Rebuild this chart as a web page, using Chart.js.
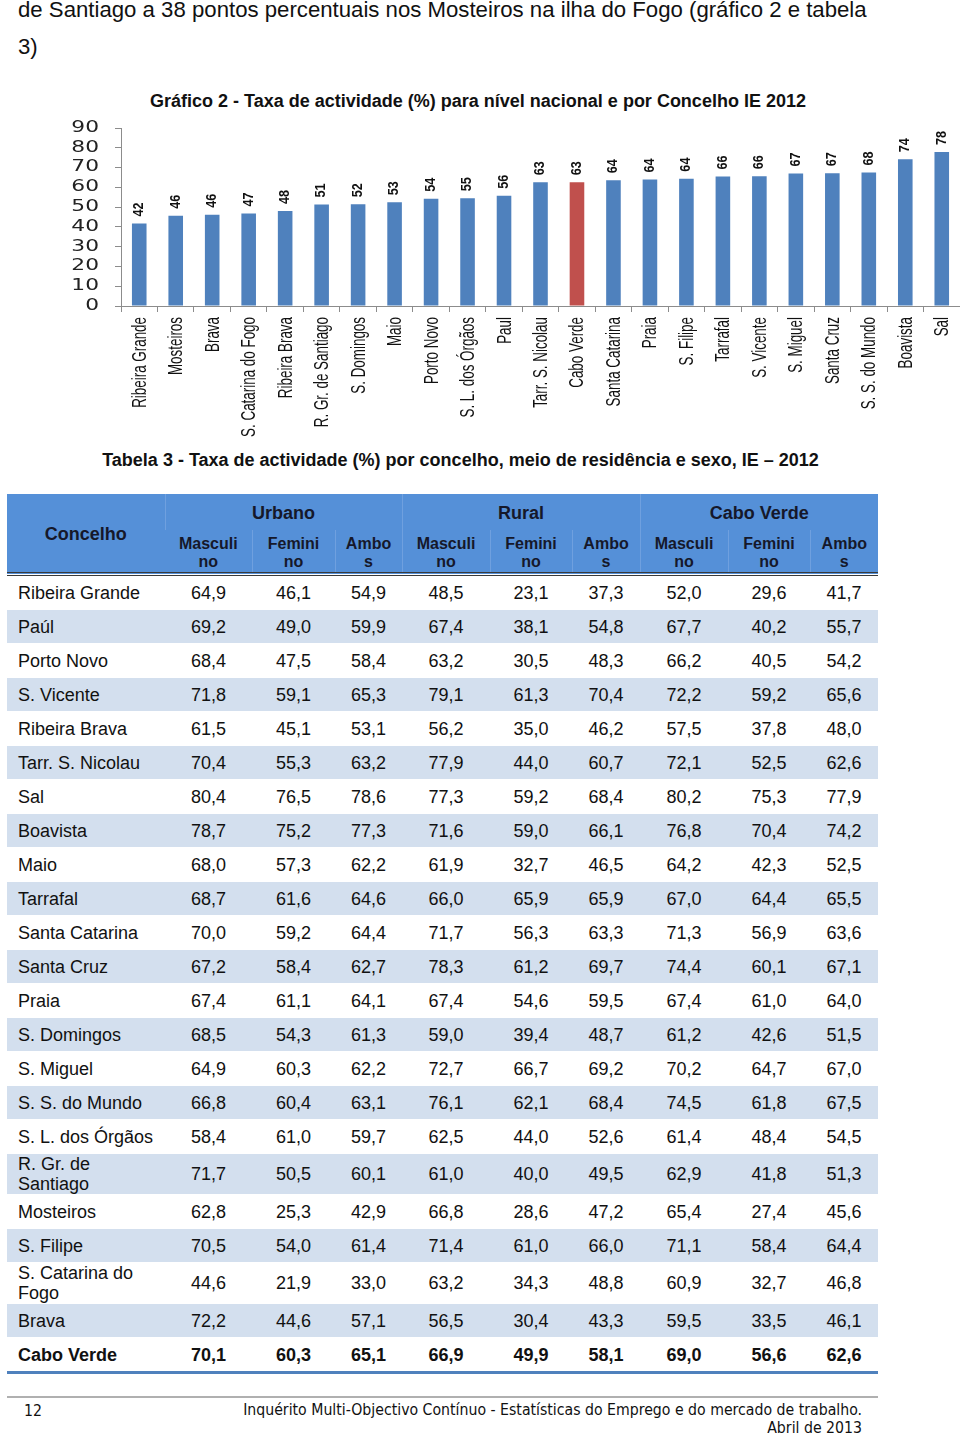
<!DOCTYPE html>
<html>
<head>
<meta charset="utf-8">
<script src="https://cdn.jsdelivr.net/npm/chart.js@4.4.1/dist/chart.umd.min.js"></script>
<style>
  body { margin: 0; width: 960px; height: 1435px; position: relative; overflow: hidden;
         font-family: "Liberation Sans", Arial, sans-serif; color: #111; background: #fff; }
  .abs { position: absolute; }
  #intro { left: 18px; top: -9px; font-size: 22.2px; line-height: 37px; white-space: nowrap; }
  .title { left: 0; text-align: center; font-weight: bold; font-size: 18px; white-space: nowrap; }
  #chartBox { left: 60px; top: 118px; width: 900px; height: 330px; }
  table { border-collapse: collapse; table-layout: fixed; width: 871px; left: 7px; top: 494px; font-size: 18px; }
  thead th { background: #5590d8; color: #15182a; font-weight: bold; text-align: center; padding: 0;
             border-left: 1px solid #6fa0df; }
  thead th:first-child { border-left: none; }
  thead tr.g th { height: 34px; font-size: 18px; padding-top: 2px; }
  thead tr.s th { height: 39px; padding-top: 3px; font-size: 16px; line-height: 18px; border-bottom: 4px double #3a3a3a; }
  tbody td { height: 33px; padding: 0; text-align: center; line-height: 20px; border-bottom: 1px solid #fff; }
  tbody td.n { text-align: left; padding-left: 11px; }
  tbody tr.alt td { background: #d3dfee; }
  tbody tr.tot td { font-weight: bold; border-bottom: 3px solid #4f81bd; }
  .foot { font-family: "Liberation Sans Narrow", "DejaVu Sans Condensed", sans-serif; font-size: 15.7px; }
</style>
</head>
<body>
<div id="intro" class="abs">de Santiago a 38 pontos percentuais nos Mosteiros na ilha do Fogo (gráfico 2 e tabela<br>3)</div>
<div class="abs title" style="top:91px;width:956px">Gráfico 2 - Taxa de actividade (%) para nível nacional e por Concelho IE 2012</div>
<div id="chartBox" class="abs"><canvas id="myChart"></canvas></div>
<div class="abs title" style="top:450px;width:921px">Tabela 3 - Taxa de actividade (%) por concelho, meio de residência e sexo, IE – 2012</div>
<table class="abs" id="tab">
  <colgroup>
    <col style="width:158px"><col style="width:87px"><col style="width:83px"><col style="width:67px">
    <col style="width:88px"><col style="width:82px"><col style="width:68px">
    <col style="width:88px"><col style="width:82px"><col style="width:68px">
  </colgroup>
  <thead>
    <tr class="g"><th rowspan="2" style="border-bottom:4px double #3a3a3a">Concelho</th>
      <th colspan="3">Urbano</th><th colspan="3">Rural</th><th colspan="3">Cabo Verde</th></tr>
    <tr class="s">
      <th>Masculi<br>no</th><th>Femini<br>no</th><th>Ambo<br>s</th>
      <th>Masculi<br>no</th><th>Femini<br>no</th><th>Ambo<br>s</th>
      <th>Masculi<br>no</th><th>Femini<br>no</th><th>Ambo<br>s</th>
    </tr>
  </thead>
  <tbody id="tbody"></tbody>
</table>
<div class="abs" style="left:7px;top:1396px;width:871px;height:2px;background:#b0b0b0"></div>
<div class="abs foot" style="left:24px;top:1401px">12</div>
<div class="abs foot" style="right:98px;top:1401px;text-align:right;line-height:18px">Inquérito Multi-Objectivo Contínuo - Estatísticas do Emprego e do mercado de trabalho.<br>Abril de 2013</div>

<script>
// Gráfico 2
const chartLabels = ['Ribeira Grande', 'Mosteiros', 'Brava', 'S. Catarina do Fogo', 'Ribeira Brava',
    'R. Gr. de Santiago', 'S. Domingos', 'Maio', 'Porto Novo', 'S. L. dos Órgãos', 'Paul',
    'Tarr. S. Nicolau', 'Cabo Verde', 'Santa Catarina', 'Praia', 'S. Filipe', 'Tarrafal',
    'S. Vicente', 'S. Miguel', 'Santa Cruz', 'S. S. do Mundo', 'Boavista', 'Sal'];
const chartValues = [41.7, 45.6, 46.1, 46.8, 48.0, 51.3, 51.5, 52.5, 54.2, 54.5, 55.7,
    62.6, 62.6, 63.6, 64.0, 64.4, 65.5, 65.6, 67.0, 67.1, 67.5, 74.2, 77.9];
const yTicks = [0, 10, 20, 30, 40, 50, 60, 70, 80, 90];

// Tabela 3
const concelhos = ['Ribeira Grande', 'Paúl', 'Porto Novo', 'S. Vicente', 'Ribeira Brava', 'Tarr. S. Nicolau',
    'Sal', 'Boavista', 'Maio', 'Tarrafal', 'Santa Catarina', 'Santa Cruz', 'Praia', 'S. Domingos',
    'S. Miguel', 'S. S. do Mundo', 'S. L. dos Órgãos', 'R. Gr. de<br>Santiago', 'Mosteiros', 'S. Filipe',
    'S. Catarina do<br>Fogo', 'Brava', 'Cabo Verde'];
const urbMasc = [64.9, 69.2, 68.4, 71.8, 61.5, 70.4, 80.4, 78.7, 68.0, 68.7, 70.0, 67.2, 67.4, 68.5, 64.9, 66.8, 58.4, 71.7, 62.8, 70.5, 44.6, 72.2, 70.1];
const urbFem = [46.1, 49.0, 47.5, 59.1, 45.1, 55.3, 76.5, 75.2, 57.3, 61.6, 59.2, 58.4, 61.1, 54.3, 60.3, 60.4, 61.0, 50.5, 25.3, 54.0, 21.9, 44.6, 60.3];
const urbAmbos = [54.9, 59.9, 58.4, 65.3, 53.1, 63.2, 78.6, 77.3, 62.2, 64.6, 64.4, 62.7, 64.1, 61.3, 62.2, 63.1, 59.7, 60.1, 42.9, 61.4, 33.0, 57.1, 65.1];
const rurMasc = [48.5, 67.4, 63.2, 79.1, 56.2, 77.9, 77.3, 71.6, 61.9, 66.0, 71.7, 78.3, 67.4, 59.0, 72.7, 76.1, 62.5, 61.0, 66.8, 71.4, 63.2, 56.5, 66.9];
const rurFem = [23.1, 38.1, 30.5, 61.3, 35.0, 44.0, 59.2, 59.0, 32.7, 65.9, 56.3, 61.2, 54.6, 39.4, 66.7, 62.1, 44.0, 40.0, 28.6, 61.0, 34.3, 30.4, 49.9];
const rurAmbos = [37.3, 54.8, 48.3, 70.4, 46.2, 60.7, 68.4, 66.1, 46.5, 65.9, 63.3, 69.7, 59.5, 48.7, 69.2, 68.4, 52.6, 49.5, 47.2, 66.0, 48.8, 43.3, 58.1];
const cvMasc = [52.0, 67.7, 66.2, 72.2, 57.5, 72.1, 80.2, 76.8, 64.2, 67.0, 71.3, 74.4, 67.4, 61.2, 70.2, 74.5, 61.4, 62.9, 65.4, 71.1, 60.9, 59.5, 69.0];
const cvFem = [29.6, 40.2, 40.5, 59.2, 37.8, 52.5, 75.3, 70.4, 42.3, 64.4, 56.9, 60.1, 61.0, 42.6, 64.7, 61.8, 48.4, 41.8, 27.4, 58.4, 32.7, 33.5, 56.6];
const cvAmbos = [41.7, 55.7, 54.2, 65.6, 48.0, 62.6, 77.9, 74.2, 52.5, 65.5, 63.6, 67.1, 64.0, 51.5, 67.0, 67.5, 54.5, 51.3, 45.6, 64.4, 46.8, 46.1, 62.6];

const fmt = v => v.toFixed(1).replace('.', ',');
const cols = [urbMasc, urbFem, urbAmbos, rurMasc, rurFem, rurAmbos, cvMasc, cvFem, cvAmbos];
let rows = '';
concelhos.forEach((name, i) => {
    let cls = i === concelhos.length - 1 ? 'tot' : (i % 2 === 1 ? 'alt' : '');
    let h = name.includes('<br>') ? ' style="height:40px"' : '';
    rows += '<tr class="' + cls + '"><td class="n"' + h + '>' + name + '</td>' +
        cols.map(c => '<td>' + fmt(c[i]) + '</td>').join('') + '</tr>';
});
document.getElementById('tbody').innerHTML = rows;

const barColors = chartLabels.map(l => l === 'Cabo Verde' ? '#c0504d' : '#4f81bd');

// labels are drawn by hand so they can be squeezed/stretched like the original picture
const chartText = {
    id: 'chartText',
    afterDraw(chart) {
        const ctx = chart.ctx;
        const xs = chart.scales.x, ys = chart.scales.y;
        ctx.save();
        ctx.fillStyle = '#222';

        // y tick labels (wide)
        ctx.font = '15px "DejaVu Sans", sans-serif';
        ctx.textAlign = 'right';
        ctx.textBaseline = 'middle';
        yTicks.forEach(v => {
            ctx.save();
            ctx.translate(chart.chartArea.left - 22, ys.getPixelForValue(v));
            ctx.scale(1.45, 1);
            ctx.fillText(String(v), 0, 0);
            ctx.restore();
        });

        // x category labels (condensed, vertical)
        ctx.fillStyle = '#111';
        ctx.font = '20px "Liberation Sans", Arial, sans-serif';
        chartLabels.forEach((l, i) => {
            ctx.save();
            ctx.translate(xs.getPixelForTick(i) + 1, xs.top + 11);
            ctx.rotate(-Math.PI / 2);
            ctx.scale(0.67, 1);
            ctx.textAlign = 'right';
            ctx.fillText(l, 0, 0);
            ctx.restore();
        });

        // value labels above bars
        ctx.font = 'bold 14px "Liberation Sans", Arial, sans-serif';
        chart.getDatasetMeta(0).data.forEach((bar, i) => {
            ctx.save();
            ctx.translate(bar.x, bar.y - 7);
            ctx.rotate(-Math.PI / 2);
            ctx.scale(0.9, 1);
            ctx.textAlign = 'left';
            ctx.fillText(String(Math.round(chartValues[i])), 0, 0);
            ctx.restore();
        });
        ctx.restore();
    }
};

new Chart(document.getElementById('myChart'), {
    type: 'bar',
    data: {
        labels: chartLabels,
        datasets: [{
            data: chartValues,
            backgroundColor: barColors,
            barPercentage: 0.4,
            categoryPercentage: 1
        }]
    },
    options: {
        responsive: true,
        maintainAspectRatio: false,
        animation: false,
        layout: { padding: { top: 10, right: 0 } },
        plugins: { legend: { display: false }, tooltip: { enabled: false } },
        scales: {
            x: {
                afterFit(scale) { scale.height = 142; },
                grid: { offset: true, drawOnChartArea: false, tickLength: 6, color: '#8c8c8c' },
                border: { color: '#8c8c8c' },
                ticks: { display: false }
            },
            y: {
                min: 0, max: 90,
                afterFit(scale) { scale.width = 61; },
                afterBuildTicks(scale) { scale.ticks = yTicks.map(v => ({ value: v })); },
                grid: { drawOnChartArea: false, tickLength: 6, color: '#8c8c8c' },
                border: { color: '#8c8c8c' },
                ticks: { display: false, autoSkip: false }
            }
        }
    },
    plugins: [chartText]
});
</script>
</body>
</html>
